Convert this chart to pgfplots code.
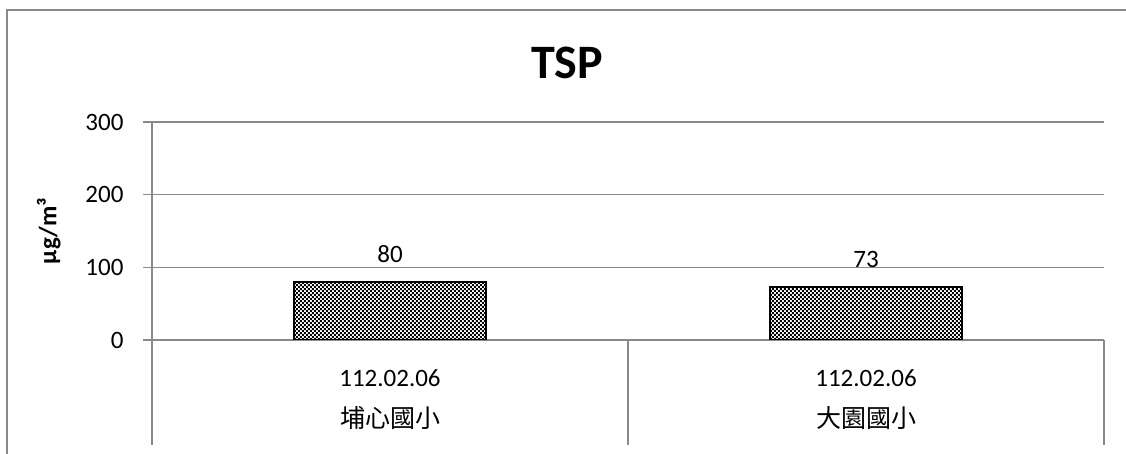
\documentclass[border=0pt]{standalone}
\usepackage{fontspec}
\setmainfont{Carlito}
\newfontfamily\cjk{Noto Sans CJK TC}
\usepackage{pgfplots}
\pgfplotsset{compat=1.18}
\usetikzlibrary{patterns.meta}
\definecolor{gridgray}{HTML}{898989}
\tikzdeclarepattern{name=finecheck, type=uncolored,
  bottom left={(0pt,0pt)}, top right={(4.4pt,4.4pt)}, tile size={(4.4pt,4.4pt)},
  code={\fill (0pt,0pt) rectangle (2.2pt,2.2pt); \fill (2.2pt,2.2pt) rectangle (4.4pt,4.4pt);}}
\begin{document}
\begin{tikzpicture}
\useasboundingbox (0,0) rectangle (1126pt,454pt);
\draw[gridgray, line width=2pt] (7pt,0) -- (7pt,444pt) -- (1126pt,444pt);
\node[font=\fontsize{48}{54}\selectfont\bfseries] at (567pt,391pt) {TSP};
\begin{axis}[
  at={(152pt,114pt)}, anchor=south west,
  width=952pt, height=218pt, scale only axis,
  xmin=-0.5, xmax=1.5, ymin=0, ymax=300,
  ytick={0,100,200,300},
  xtick={0,1},
  xticklabels={{112.02.06\\{\cjk 埔心國小}},{112.02.06\\{\cjk 大園國小}}},
  minor xtick={-0.5,0.5,1.5},
  minor tick length=105pt,
  major tick length=9pt,
  tick align=outside,
  major x tick style={draw=none},
  minor x tick style={gridgray, line width=1.3pt},
  ytick style={gridgray, line width=1.3pt},
  ymajorgrids, grid style={gridgray, line width=1.3pt},
  axis x line*=bottom, axis y line*=left,
  axis line style={gridgray, line width=1.3pt},
  /pgf/number format/assume math mode=true,
  yticklabel style={font=\fontsize{25}{29}\selectfont, text=black, xshift=-16pt},
  xticklabel style={font=\fontsize{25}{41}\selectfont, align=center, anchor=north, text=black, yshift=-17pt},
  ylabel={\textbf{µg/m³}},
  ylabel style={at={(axis description cs:-0.1085,0.5)}, anchor=center, rotate=0, font=\fontsize{25}{29}\selectfont},
  nodes near coords,
  every node near coord/.append style={font=\fontsize{25}{29}\selectfont, inner sep=0pt, anchor=south, yshift=19pt, text=black},
]
\addplot[ybar, bar width=0.403, draw=black, line width=1.3pt, pattern=finecheck, pattern color=black] coordinates {(0,80) (1,73)};
\end{axis}
\end{tikzpicture}
\end{document}
